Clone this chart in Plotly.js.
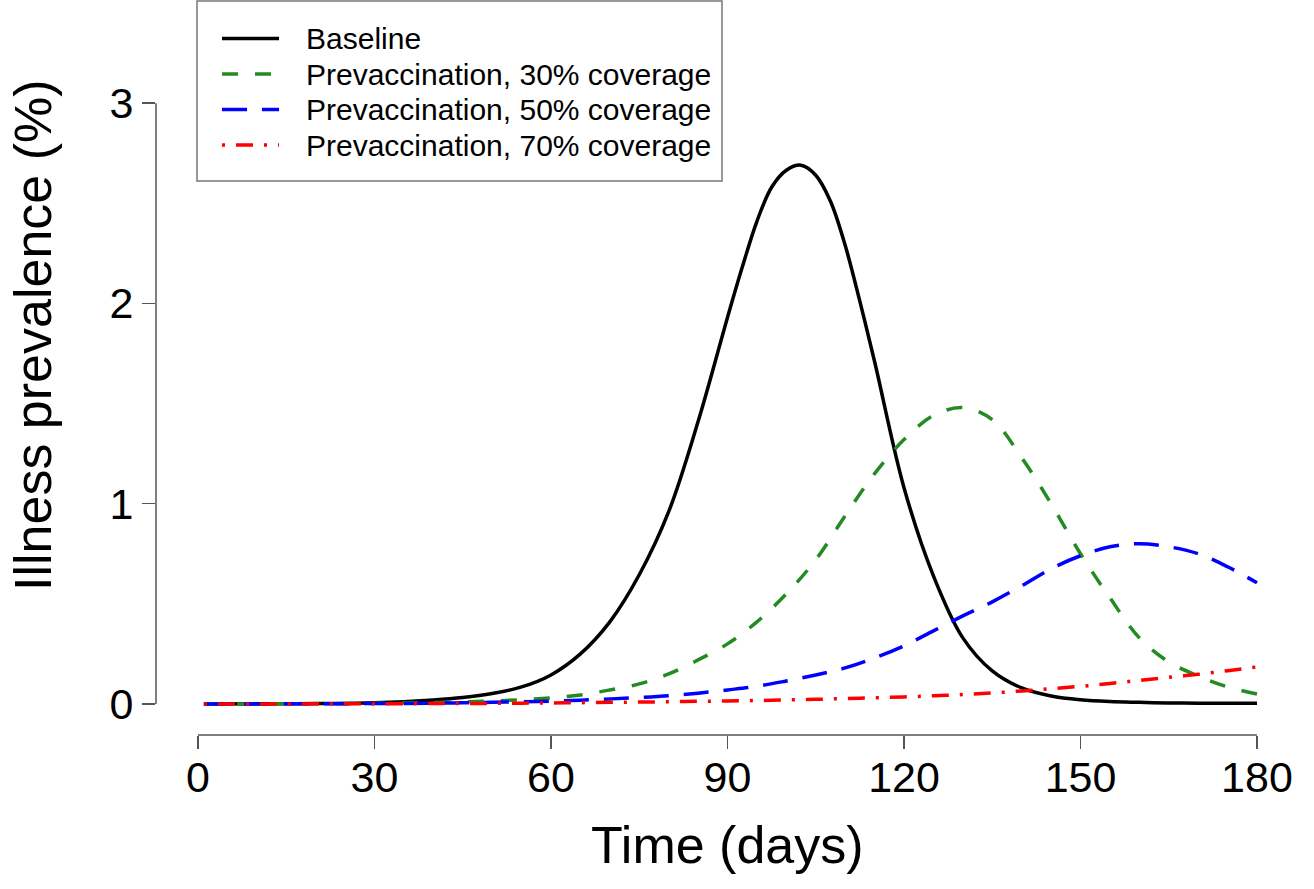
<!DOCTYPE html>
<html>
<head>
<meta charset="utf-8">
<script src="https://cdn.plot.ly/plotly-3.0.1.min.js"></script>
<style>html,body{margin:0;padding:0;background:#fff;}#chart{width:1314px;height:889px;}</style>
</head>
<body>
<div id="chart"></div>
<script>
// Time axis (days)
const days = [1, 10, 20, 30, 40, 45, 50, 55, 60, 65, 70, 75, 80, 85, 90, 95, 100, 105, 110, 115, 120, 125, 130, 135, 140, 145, 150, 155, 160, 165, 170, 175, 180];
// Baseline is read more densely around its sharp peak
const baselineDays = [1, 10, 20, 30, 40, 45, 50, 55, 60, 65, 70, 75, 80, 85, 90, 92.5, 95, 97.5, 100, 102.5, 105, 107.5, 110, 112.5, 115, 120, 125, 130, 135, 140, 145, 150, 155, 160, 165, 170, 175, 180];

// Illness prevalence (%)
const baseline = [0, 0.001, 0.002, 0.006, 0.02, 0.032, 0.052, 0.085, 0.145, 0.25, 0.41, 0.645, 0.96, 1.41, 1.93, 2.18, 2.41, 2.58, 2.665, 2.69, 2.64, 2.51, 2.29, 2.01, 1.71, 1.08, 0.64, 0.33, 0.165, 0.08, 0.04, 0.021, 0.012, 0.008, 0.005, 0.004, 0.003, 0.003];
const cov30 = [0, 0.0005, 0.001, 0.003, 0.007, 0.01, 0.015, 0.021, 0.03, 0.045, 0.07, 0.10, 0.15, 0.22, 0.30, 0.41, 0.55, 0.72, 0.94, 1.15, 1.32, 1.44, 1.48, 1.42, 1.23, 1.00, 0.75, 0.53, 0.33, 0.21, 0.14, 0.085, 0.05];
const cov50 = [0, 0.0003, 0.001, 0.002, 0.004, 0.006, 0.008, 0.011, 0.014, 0.019, 0.025, 0.032, 0.041, 0.054, 0.07, 0.088, 0.115, 0.145, 0.18, 0.23, 0.29, 0.365, 0.44, 0.51, 0.59, 0.675, 0.74, 0.785, 0.80, 0.785, 0.75, 0.685, 0.605];
const cov70 = [0, 0.0002, 0.0005, 0.001, 0.002, 0.0025, 0.003, 0.004, 0.005, 0.0065, 0.008, 0.0095, 0.011, 0.013, 0.015, 0.017, 0.02, 0.023, 0.027, 0.031, 0.035, 0.041, 0.047, 0.055, 0.065, 0.076, 0.088, 0.102, 0.118, 0.133, 0.148, 0.166, 0.185];

const seriesNames = ["Baseline", "Prevaccination, 30% coverage", "Prevaccination, 50% coverage", "Prevaccination, 70% coverage"];
const xTicks = [0, 30, 60, 90, 120, 150, 180];
const yTicks = [0, 1, 2, 3];

const FONT = "Liberation Sans, Arial, Helvetica, sans-serif";
const AX = "#555555";

const styles = [
  {color: "#000000", width: 3.5, dash: "solid"},
  {color: "#228B22", width: 3.5, dash: "16px,17px"},
  {color: "#0000FF", width: 3.5, dash: "25px,15px"},
  {color: "#FF0000", width: 3.5, dash: "3px,11px,17px,11px"}
];
const series = [baseline, cov30, cov50, cov70];
const xs = [baselineDays, days, days, days];

const traces = series.map((vals, i) => ({
  x: xs[i], y: vals, name: seriesNames[i], mode: "lines", showlegend: false,
  line: {color: styles[i].color, width: styles[i].width, dash: styles[i].dash, shape: "spline", smoothing: 1}
}));

// pixel helpers for the plot frame (margins l=156, t=5, plot 1143 x 730)
const L = 156, T = 5, PW = 1143, PH = 730;
const px = v => (v - L) / PW;
const py = v => (T + PH - v) / PH;

// legend box (drawn as in the original base-graphics legend)
const legendShapes = [
  {type: "rect", xref: "paper", yref: "paper", x0: px(197), x1: px(722), y0: py(181), y1: py(1), line: {color: "#777777", width: 1.5}, fillcolor: "rgba(0,0,0,0)"}
];
const legendAnn = [];
const rowY = [38.5, 74, 109.5, 145];
seriesNames.forEach((n, i) => {
  legendShapes.push({type: "line", xref: "paper", yref: "paper", x0: px(222), x1: px(279), y0: py(rowY[i]), y1: py(rowY[i]),
    line: {color: styles[i].color, width: styles[i].width, dash: styles[i].dash}});
  legendAnn.push({text: n, xref: "paper", yref: "paper", x: px(304), y: py(rowY[i]), xanchor: "left", yanchor: "middle",
    showarrow: false, font: {family: FONT, size: 30, color: "#000000"}});
});

const layout = {
  width: 1314, height: 889,
  margin: {l: L, r: 15, t: T, b: 154},
  paper_bgcolor: "#ffffff", plot_bgcolor: "#ffffff",
  font: {family: FONT, color: "#000000"},
  showlegend: false,
  xaxis: {
    range: [-7.14, 187.14], tickvals: xTicks, ticktext: xTicks.map(String),
    ticks: "outside", ticklen: 13, tickwidth: 1.5, tickcolor: AX, ticklabelstandoff: -9,
    showline: false, zeroline: false, showgrid: false,
    tickfont: {family: FONT, size: 43, color: "#000000"}, fixedrange: true
  },
  yaxis: {
    range: [-0.155, 3.49], tickvals: yTicks, ticktext: yTicks.map(String),
    ticks: "outside", ticklen: 13, tickwidth: 1.5, tickcolor: AX,
    showline: false, zeroline: false, showgrid: false,
    tickfont: {family: FONT, size: 43, color: "#000000"}, fixedrange: true
  },
  shapes: [
    {type: "line", xref: "x", yref: "paper", x0: xTicks[0], x1: xTicks[xTicks.length - 1], y0: 0, y1: 0, line: {color: AX, width: 1.5}},
    {type: "line", xref: "paper", yref: "y", x0: 0, x1: 0, y0: yTicks[0], y1: yTicks[yTicks.length - 1], line: {color: AX, width: 1.5}}
  ].concat(legendShapes),
  annotations: [
    {text: "Time (days)", xref: "paper", yref: "paper", x: 0.5, y: py(845), xanchor: "center", yanchor: "middle", showarrow: false, font: {family: FONT, size: 52, color: "#000000"}},
    {text: "Illness prevalence (%)", xref: "paper", yref: "paper", x: px(33), y: py(335), xanchor: "center", yanchor: "middle", textangle: -90, showarrow: false, font: {family: FONT, size: 52, color: "#000000"}}
  ].concat(legendAnn)
};

Plotly.newPlot("chart", traces, layout, {displayModeBar: false, staticPlot: true});
</script>
</body>
</html>
